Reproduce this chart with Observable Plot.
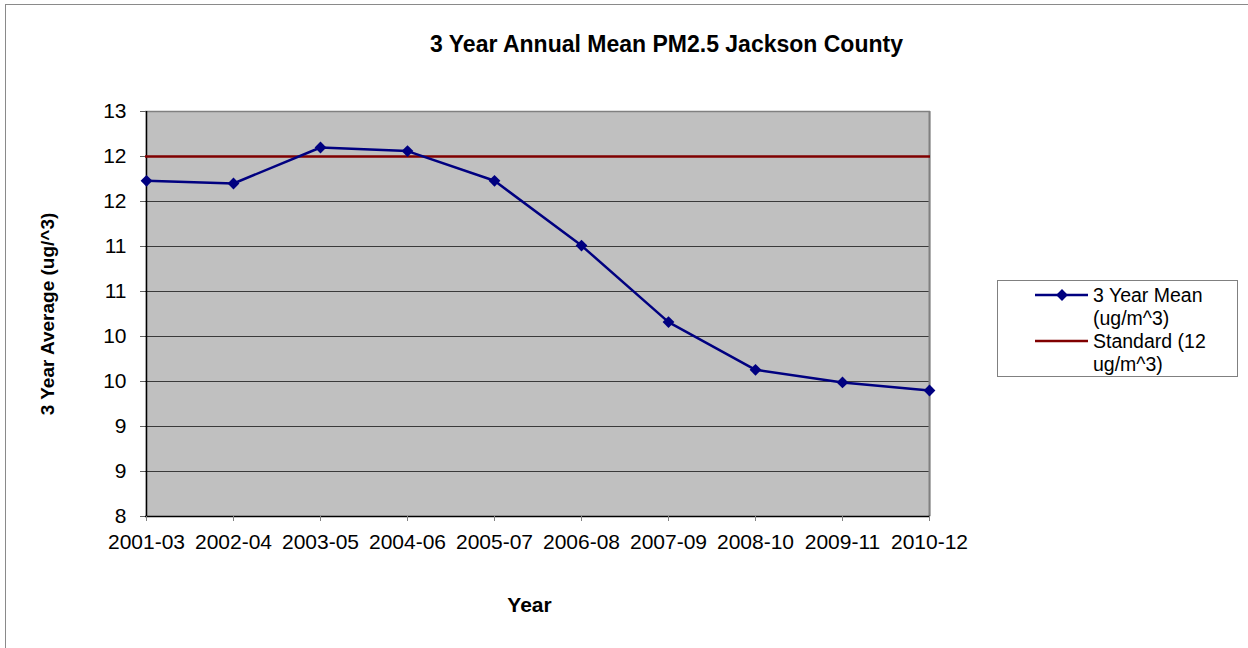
<!DOCTYPE html>
<html>
<head>
<meta charset="utf-8">
<script src="https://cdn.jsdelivr.net/npm/d3@7"></script>
<script src="https://cdn.jsdelivr.net/npm/@observablehq/plot@0.6"></script>
<style>
  html, body { margin: 0; padding: 0; background: #fff; overflow: hidden; }
  #wrap { position: relative; width: 1248px; height: 648px; overflow: hidden; font-family: "Liberation Sans", Arial, sans-serif; }
  #border { position: absolute; left: 5px; top: 4px; width: 1400px; height: 800px; border: 1px solid #8a8a8a; box-sizing: border-box; }
  #chart { position: absolute; left: 0; top: 0; }
  #legend { position: absolute; left: 0; top: 0; }
</style>
</head>
<body>
<div id="wrap">
  <div id="border"></div>
  <div id="chart"></div>
  <svg id="legend" width="1248" height="648"></svg>
</div>
<script>
// ---- data ----
const periods = ["2001-03", "2002-04", "2003-05", "2004-06", "2005-07", "2006-08", "2007-09", "2008-10", "2009-11", "2010-12"];
const meanValues = [11.73, 11.70, 12.10, 12.06, 11.73, 11.01, 10.16, 9.63, 9.49, 9.40];
const standardValue = 12;
const yTicks = [8, 8.5, 9, 9.5, 10, 10.5, 11, 11.5, 12, 12.5];
const yTickLabels = ["8", "9", "9", "10", "10", "11", "11", "12", "12", "13"];
const titleText = "3 Year Annual Mean PM2.5 Jackson County";
const yTitle = "3 Year Average (ug/^3)";
const xTitle = "Year";
const seriesNames = ["3 Year Mean (ug/m^3)", "Standard (12 ug/m^3)"];

const data = periods.map((p, i) => ({period: p, value: meanValues[i]}));

const chart = Plot.plot({
  width: 1248,
  height: 648,
  marginLeft: 145,
  marginRight: 318,
  marginTop: 111,
  marginBottom: 132,
  style: {fontFamily: "'Liberation Sans', Arial, sans-serif", fontSize: "21px", color: "#000", background: "transparent", overflow: "visible"},
  x: {type: "point", domain: periods, padding: 0, label: null},
  y: {domain: [8, 12.5], label: null},
  marks: [
    Plot.frame({fill: "#c0c0c0", stroke: null}),
    Plot.ruleY(yTicks.slice(1), {stroke: "#3a3a3a", strokeWidth: 1}),
    Plot.ruleY([yTicks[yTicks.length - 1]], {stroke: "#808080", strokeWidth: 1.5}),
    Plot.ruleX([periods[periods.length - 1]], {stroke: "#808080", strokeWidth: 2}),
    Plot.ruleX([periods[0]], {stroke: "#000", strokeWidth: 1.5}),
    Plot.ruleY([yTicks[0]], {stroke: "#000", strokeWidth: 1.5}),
    Plot.axisY(yTicks, {tickSize: 5, tickPadding: 14, stroke: "#606060", tickFormat: d => yTickLabels[yTicks.indexOf(d)], label: null}),
    Plot.axisX({tickSize: 5, tickPadding: 13, stroke: "#808080", label: null}),
    Plot.ruleY([standardValue], {stroke: "#800000", strokeWidth: 2.5}),
    Plot.line(data, {x: "period", y: "value", stroke: "#000080", strokeWidth: 2.5}),
    Plot.dot(data, {x: "period", y: "value", symbol: "diamond2", r: 5.3, fill: "#000080", stroke: null}),
    Plot.text([titleText], {frameAnchor: "top", lineAnchor: "middle", textAnchor: "middle", dx: 128.5, dy: -67, fontWeight: "bold", fontSize: 23}),
    Plot.text([yTitle], {frameAnchor: "left", lineAnchor: "middle", textAnchor: "middle", dx: -98, rotate: -90, fontWeight: "bold", fontSize: 19}),
    Plot.text([xTitle], {frameAnchor: "bottom", lineAnchor: "middle", textAnchor: "middle", dx: -8.5, dy: 89, fontWeight: "bold", fontSize: 21})
  ]
});
document.getElementById("chart").appendChild(chart);

// ---- legend ----
const lg = d3.select("#legend");
lg.append("rect").attr("x", 997.5).attr("y", 280.5).attr("width", 240).attr("height", 96)
  .attr("fill", "#fff").attr("stroke", "#808080").attr("stroke-width", 1);
const legendRows = [
  {lines: ["3 Year Mean", "(ug/m^3)"], color: "#000080", marker: true, y: 295},
  {lines: ["Standard (12", "ug/m^3)"], color: "#800000", marker: false, y: 341}
];
legendRows.forEach(r => {
  lg.append("line").attr("x1", 1035).attr("x2", 1088).attr("y1", r.y).attr("y2", r.y)
    .attr("stroke", r.color).attr("stroke-width", 2.5);
  if (r.marker) {
    lg.append("path").attr("d", d3.symbol(d3.symbolDiamond2, Math.PI * 5.3 * 5.3)())
      .attr("transform", `translate(1062,${r.y})`).attr("fill", r.color);
  }
  r.lines.forEach((t, j) => {
    lg.append("text").attr("x", 1093).attr("y", r.y + 7 + j * 23.3)
      .attr("font-family", "'Liberation Sans', Arial, sans-serif").attr("font-size", 19.5)
      .attr("fill", "#000").text(t);
  });
});
</script>
</body>
</html>
